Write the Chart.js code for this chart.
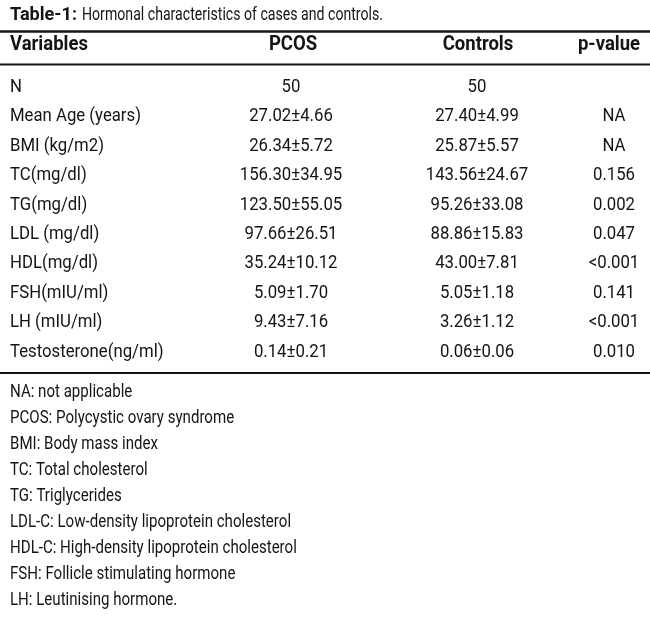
<!DOCTYPE html>
<html>
<head>
<meta charset="utf-8">
<script src="https://cdn.jsdelivr.net/npm/chart.js@4.4.1/dist/chart.umd.min.js"></script>
<style>
  html, body { margin: 0; padding: 0; background: #ffffff; }
  #wrap { width: 650px; height: 619px; position: relative; }
</style>
</head>
<body>
<div id="wrap"><canvas id="c" width="650" height="619"></canvas></div>
<script>
// ---- data ----
const titleBold = 'Table-1:';
const titleText = 'Hormonal characteristics of cases and controls.';
const headers = ['Variables', 'PCOS', 'Controls', 'p-value'];
const variables = ['N', 'Mean Age (years)', 'BMI (kg/m2)', 'TC(mg/dl)', 'TG(mg/dl)', 'LDL (mg/dl)',
  'HDL(mg/dl)', 'FSH(mIU/ml)', 'LH (mIU/ml)', 'Testosterone(ng/ml)'];
const pcos = ['50', '27.02±4.66', '26.34±5.72', '156.30±34.95', '123.50±55.05', '97.66±26.51',
  '35.24±10.12', '5.09±1.70', '9.43±7.16', '0.14±0.21'];
const controls = ['50', '27.40±4.99', '25.87±5.57', '143.56±24.67', '95.26±33.08', '88.86±15.83',
  '43.00±7.81', '5.05±1.18', '3.26±1.12', '0.06±0.06'];
const pvalues = ['', 'NA', 'NA', '0.156', '0.002', '0.047', '<0.001', '0.141', '<0.001', '0.010'];
const footnotes = ['NA: not applicable', 'PCOS: Polycystic ovary syndrome', 'BMI: Body mass index',
  'TC: Total cholesterol', 'TG: Triglycerides', 'LDL-C: Low-density lipoprotein cholesterol',
  'HDL-C: High-density lipoprotein cholesterol', 'FSH: Follicle stimulating hormone',
  'LH: Leutinising hormone.'];

// ---- layout / style (not data) ----
const FONT = 'Roboto, "Liberation Sans", sans-serif';
const INK = '#141414';
const colHead = [{x: 10, a: 'left'}, {x: 293, a: 'center'}, {x: 478, a: 'center'}, {x: 609, a: 'center'}];
const colVal = [{x: 10, a: 'left'}, {x: 291, a: 'center'}, {x: 477, a: 'center'}, {x: 614, a: 'center'}];
// font styles: [css font, calibration string, target width in px]
const ST = {
  titleB: ['bold 18.5px ' + FONT, 'Table-1:', 67],
  titleR: ['17.5px ' + FONT, 'Hormonal characteristics of cases and controls.', 301],
  head:   ['bold 20px ' + FONT, 'Variables', 78],
  body:   ['19px ' + FONT, 'Mean Age (years)', 131],
  foot:   ['18.5px ' + FONT, 'BMI: Body mass index', 148]
};

const tablePlugin = {
  id: 'tablePlugin',
  afterDraw(chart) {
    const ctx = chart.ctx;
    const xs = chart.scales.x, ys = chart.scales.y;
    const top = chart.chartArea.top, bottom = chart.chartArea.bottom;
    const L = xs.getPixelForValue(0), R = xs.getPixelForValue(650);
    ctx.save();
    ctx.fillStyle = INK;
    ctx.strokeStyle = INK;
    ctx.textBaseline = 'middle';
    const sx = {};
    Object.keys(ST).forEach(k => { ctx.font = ST[k][0]; sx[k] = ST[k][2] / ctx.measureText(ST[k][1]).width; });
    const txt = (style, s, x, y, align) => {
      ctx.save();
      ctx.font = ST[style][0];
      ctx.textAlign = align;
      ctx.translate(x, y);
      ctx.scale(sx[style], 1);
      ctx.fillText(s, 0, 0);
      const w = ctx.measureText(s).width * sx[style];
      ctx.restore();
      return w;
    };

    // title
    const ty = top - 72;
    const x0 = xs.getPixelForValue(10);
    const bw = txt('titleB', titleBold, x0, ty, 'left');
    txt('titleR', titleText, x0 + bw + 5, ty + 0.5, 'left');

    // rules
    const rule = (y, w) => { ctx.lineWidth = w; ctx.beginPath(); ctx.moveTo(L, y); ctx.lineTo(R, y); ctx.stroke(); };
    rule(top - 55.5, 2.6);
    rule(top - 22.5, 2.2);
    rule(bottom + 21, 2.2);

    // header
    headers.forEach((h, i) => txt('head', h, xs.getPixelForValue(colHead[i].x), top - 42, colHead[i].a));

    // body rows
    const cols = [variables, pcos, controls, pvalues];
    variables.forEach((v, r) => {
      const y = ys.getPixelForValue(r);
      cols.forEach((col, c) => txt('body', col[r], xs.getPixelForValue(colVal[c].x), y, colVal[c].a));
    });

    // footnotes
    footnotes.forEach((f, i) => txt('foot', f, x0, bottom + 40 + i * 26, 'left'));
    ctx.restore();
  }
};

new Chart(document.getElementById('c'), {
  type: 'scatter',
  data: { labels: variables, datasets: [] },
  options: {
    responsive: false,
    animation: false,
    events: [],
    layout: { padding: { top: 87, bottom: 619 - 352, left: 0, right: 0 } },
    plugins: { legend: { display: false }, tooltip: { enabled: false }, title: { display: false } },
    scales: {
      x: { type: 'linear', min: 0, max: 650, display: false },
      y: { type: 'category', labels: variables, offset: false, display: false }
    }
  },
  plugins: [tablePlugin]
});
</script>
</body>
</html>
